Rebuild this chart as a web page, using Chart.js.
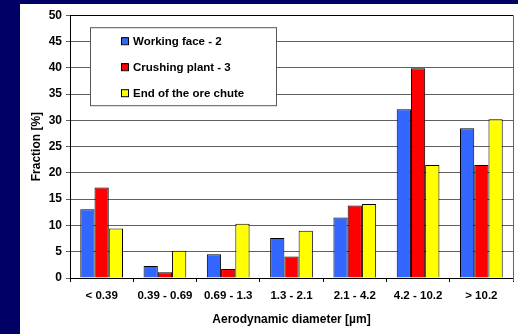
<!DOCTYPE html>
<html lang="en">
  <head>
    <meta charset="UTF-8" />
    <title>Fraction by aerodynamic diameter</title>
    <style>
      html, body { margin: 0; padding: 0; background: #000066; }
      #panel {
        position: absolute;
        left: 20px;
        top: 4px;
        width: 498px;
        height: 330px;
        background: #ffffff;
      }
    </style>
  </head>
  <body>
    <div id="panel">
      <canvas id="myChart" width="498" height="330"></canvas>
    </div>

    <script src="https://cdn.jsdelivr.net/npm/chart.js"></script>
    <script>
      const categories = ["< 0.39", "0.39 - 0.69", "0.69 - 1.3", "1.3 - 2.1", "2.1 - 4.2", "4.2 - 10.2", "> 10.2"];
      const workingFace = [13.1, 2.3, 4.5, 7.6, 11.5, 32.1, 28.5];
      const crushingPlant = [17.2, 1.1, 1.7, 4.1, 13.8, 39.9, 21.5];
      const oreChute = [9.4, 5.2, 10.3, 9.0, 14.1, 21.5, 30.2];
      const seriesNames = ["Working face - 2", "Crushing plant - 3", "End of the ore chute"];
      const yMin = 0, yMax = 50, yStep = 5;

      Chart.defaults.font.family = "'Liberation Sans', Arial, sans-serif";
      Chart.defaults.font.weight = "bold";
      Chart.defaults.color = "#000000";

      // legend box drawn inside the plot, like the original
      const boxLegend = {
        id: "boxLegend",
        afterDraw(chart) {
          const c = chart.ctx;
          const area = chart.chartArea;
          const x0 = area.left + 20, y0 = area.top + 12;
          c.save();
          c.fillStyle = "#ffffff";
          c.fillRect(x0, y0, 186, 78);
          c.strokeStyle = "#555555";
          c.lineWidth = 1;
          c.strokeRect(x0 + 0.5, y0 + 0.5, 186, 78);
          c.font = "bold 11.5px 'Liberation Sans', Arial, sans-serif";
          c.textBaseline = "middle";
          chart.data.datasets.forEach(function (ds, i) {
            const cy = y0 + 14 + i * 26;
            c.fillStyle = ds.backgroundColor;
            c.fillRect(x0 + 31, cy - 4, 7, 7);
            c.strokeStyle = "#000000";
            c.strokeRect(x0 + 31.5, cy - 3.5, 7, 7);
            c.fillStyle = "#000000";
            c.fillText(ds.label, x0 + 43, cy + 1);
          });
          // right border of the plot
          c.strokeStyle = "#666666";
          c.beginPath();
          c.moveTo(area.right + 0.5, area.top);
          c.lineTo(area.right + 0.5, area.bottom + 3);
          c.stroke();
          c.restore();
        },
      };

      const ctx = document.getElementById("myChart");
      const mychart = new Chart(ctx, {
        type: "bar",
        data: {
          labels: categories,
          datasets: [
            { label: seriesNames[0], data: workingFace, backgroundColor: "#3366ff" },
            { label: seriesNames[1], data: crushingPlant, backgroundColor: "#ff0000" },
            { label: seriesNames[2], data: oreChute, backgroundColor: "#ffff00" },
          ],
        },
        options: {
          responsive: false,
          animation: false,
          layout: { padding: { top: 10, right: 5, bottom: 0, left: 0 } },
          datasets: {
            bar: {
              borderColor: "#000000",
              borderWidth: 1,
              categoryPercentage: 0.675,
              barPercentage: 1.0,
            },
          },
          plugins: {
            legend: { display: false },
            tooltip: { enabled: false },
          },
          scales: {
            x: {
              grid: {
                offset: true,
                drawOnChartArea: false,
                tickLength: 4,
                tickColor: "#000000",
              },
              border: { color: "#000000", width: 1 },
              ticks: { font: { size: 11.5, weight: "bold" }, padding: 7, maxRotation: 0 },
              title: {
                display: true,
                text: "Aerodynamic diameter [µm]",
                font: { size: 12, weight: "bold" },
                padding: { top: 0, bottom: 7 },
              },
              afterFit(scale) { scale.height = 56; },
            },
            y: {
              min: yMin,
              max: yMax,
              ticks: { stepSize: yStep, font: { size: 12, weight: "bold" }, padding: 4 },
              grid: {
                color: function (c) { return c.tick.value === yMax ? "#000000" : "#606060"; },
                tickColor: "#606060",
                tickLength: 4,
              },
              border: { color: "#000000", width: 1 },
              title: {
                display: true,
                text: "Fraction [%]",
                font: { size: 12, weight: "bold" },
                padding: { top: 9, bottom: 0 },
              },
              afterFit(scale) { scale.width = 50; },
            },
          },
        },
        plugins: [boxLegend],
      });
    </script>
  </body>
</html>
